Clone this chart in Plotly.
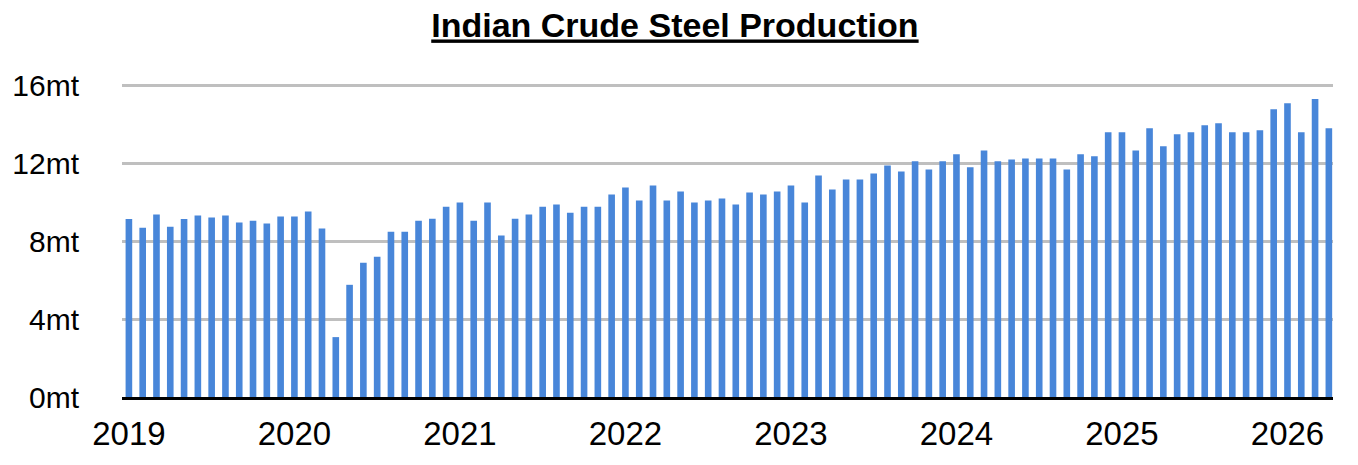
import plotly.graph_objects as go

# ---- data ----
months = [f"{y}-{m:02d}" for y in range(2019, 2027) for m in range(1, 13)][:88]
production_mt = [
    9.16, 8.71, 9.38, 8.76, 9.16, 9.33, 9.23, 9.33, 8.97, 9.07, 8.92, 9.28,    # 2019
    9.28, 9.54, 8.66, 3.08, 5.77, 6.90, 7.21, 8.50, 8.50, 9.07, 9.17, 9.79,    # 2020
    10.00, 9.07, 10.00, 8.30, 9.17, 9.38, 9.79, 9.90, 9.48, 9.79, 9.79, 10.41, # 2021
    10.77, 10.10, 10.88, 10.10, 10.57, 10.00, 10.10, 10.21, 9.90, 10.52, 10.41, 10.57,  # 2022
    10.88, 10.00, 11.39, 10.67, 11.19, 11.19, 11.50, 11.91, 11.60, 12.12, 11.70, 12.12, # 2023
    12.48, 11.81, 12.68, 12.12, 12.22, 12.27, 12.27, 12.27, 11.70, 12.48, 12.38, 13.61, # 2024
    13.61, 12.68, 13.82, 12.89, 13.51, 13.61, 13.98, 14.08, 13.61, 13.61, 13.72, 14.80, # 2025
    15.11, 13.61, 15.32, 13.82,                                                 # 2026
]
year_ticks = [m for m in months if m.endswith("-01")]
year_labels = [m[:4] for m in year_ticks]
y_ticks = [0, 4, 8, 12, 16]
y_labels = [f"{v}mt" for v in y_ticks]

FONT = "Liberation Sans, Arial, Helvetica, sans-serif"

fig = go.Figure(
    go.Bar(x=months, y=production_mt, marker=dict(color="#4886D9", line=dict(width=0)))
)

fig.update_layout(
    width=1358, height=465,
    margin=dict(l=119, r=25, t=82, b=68),
    paper_bgcolor="white", plot_bgcolor="white",
    bargap=0.52,
    showlegend=False,
    title=dict(
        text="<b><u>Indian Crude Steel Production</u></b>",
        x=0.497, xanchor="center", y=0.945, yanchor="middle",
        font=dict(family=FONT, size=34, color="black"),
    ),
    font=dict(family=FONT, color="black"),
)

fig.update_xaxes(
    type="category",
    categoryorder="array", categoryarray=months,
    range=[-0.5, 87.3],
    tickmode="array", tickvals=year_ticks, ticktext=year_labels,
    tickfont=dict(size=33, family=FONT, color="black"),
    ticks="outside", ticklen=5, tickcolor="rgba(0,0,0,0)",
    showline=True, linecolor="black", linewidth=3,
    showgrid=False, zeroline=False,
)

fig.update_yaxes(
    range=[0, 16.2],
    tickmode="array", tickvals=y_ticks, ticktext=y_labels,
    tickfont=dict(size=30, family=FONT, color="black"),
    ticks="outside", ticklen=36, tickcolor="rgba(0,0,0,0)",
    showgrid=True, gridcolor="#BFBFBF", gridwidth=2.5,
    zeroline=False, showline=False,
)

fig.write_html("out.html")
